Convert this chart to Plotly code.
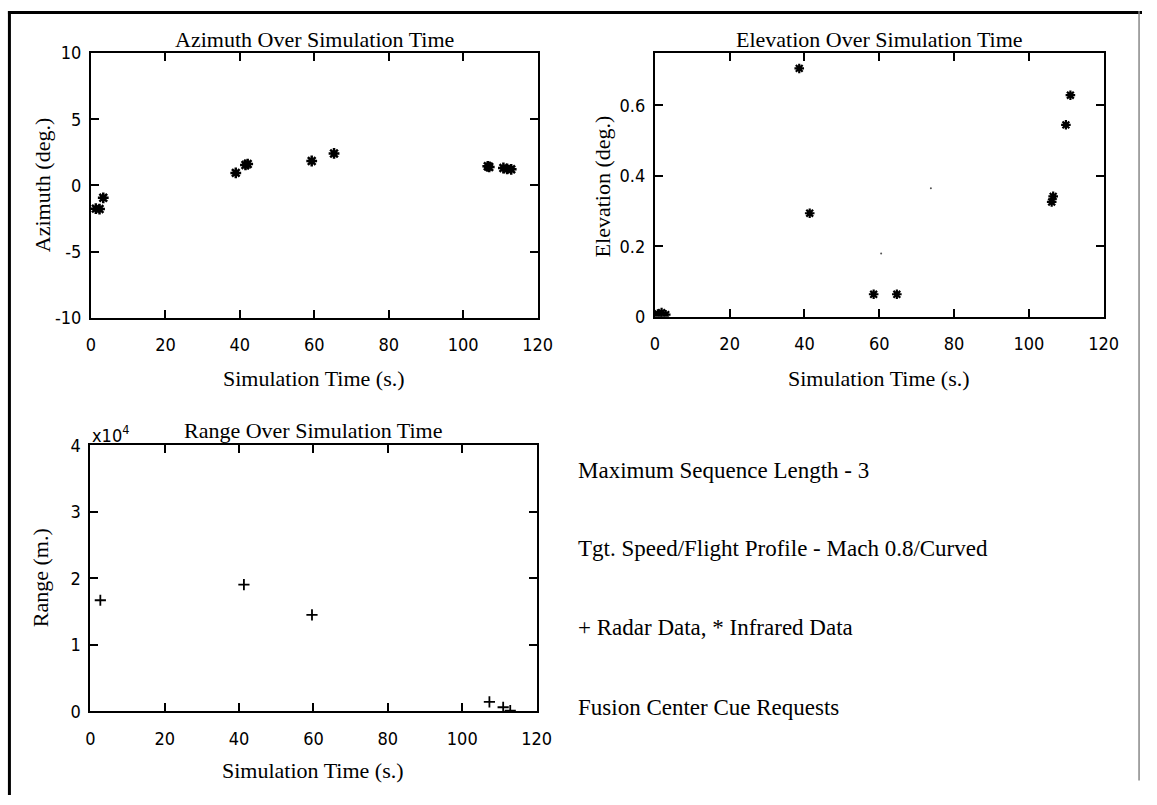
import plotly.graph_objects as go

W, H = 1157, 805

# ---------------- data ----------------
az_time = [1.3, 2.3, 3.3, 38.9, 41.5, 42.1, 59.3, 65.3, 106.6, 107.0, 110.8, 111.8, 112.9]
az_deg = [-1.75, -1.78, -0.93, 0.95, 1.55, 1.62, 1.85, 2.42, 1.45, 1.40, 1.32, 1.25, 1.22]

el_time = [0.8, 1.8, 2.9, 38.6, 41.4, 58.5, 64.7, 106.1, 106.5, 109.9, 111.1]
el_deg = [0.008, 0.012, 0.006, 0.705, 0.294, 0.064, 0.064, 0.326, 0.342, 0.545, 0.629]

el_dot_time = [60.5, 73.8]
el_dot_deg = [0.18, 0.365]

rg_time = [2.7, 41.3, 59.6, 107.3, 111.0, 112.9]
rg_m = [16700, 19050, 14500, 1400, 600, 100]

x_ticks = [0, 20, 40, 60, 80, 100, 120]
az_ticks = [10, 5, 0, -5, -10]
az_tick_text = ["10", "5", "0", "-5", "-10"]
el_ticks = [0, 0.2, 0.4, 0.6]
el_tick_text = ["0", "0.2", "0.4", "0.6"]
rg_ticks = [0, 10000, 20000, 30000, 40000]
rg_tick_text = ["0", "1", "2", "3", "4"]

notes = ["Maximum Sequence Length - 3",
         "Tgt. Speed/Flight Profile - Mach 0.8/Curved",
         "+ Radar Data, * Infrared Data",
         "Fusion Center Cue Requests"]

# ---------------- layout helpers ----------------
def px(x):
    return x / W

def py(y):
    return 1 - y / H

SERIF = "Liberation Serif, Times New Roman, serif"
SANS = "DejaVu Sans Condensed, DejaVu Sans, sans-serif"

# plot boxes in pixels: (left, right, top, bottom)
box1 = (87.5, 542, 43.3, 315)
box2 = (661.3, 1118, 42.7, 314)
box3 = (86.8, 541, 446, 719)

axis_common = dict(
    showline=True, linewidth=2, linecolor="black", mirror="allticks",
    ticks="inside", ticklen=8, tickwidth=1.5, tickcolor="black",
    showgrid=False, zeroline=False,
    tickfont=dict(family=SANS, size=18, color="black"),
)

fig = go.Figure()

ast = dict(symbol="asterisk-open", size=9, color="black", line=dict(color="black", width=2.5))
ast2 = dict(symbol="asterisk-open", size=8, color="black", line=dict(color="black", width=2.2))

fig.add_trace(go.Scatter(x=az_time, y=az_deg, mode="markers", marker=ast,
                         xaxis="x", yaxis="y", showlegend=False))
fig.add_trace(go.Scatter(x=el_time, y=el_deg, mode="markers", marker=ast2,
                         xaxis="x2", yaxis="y2", showlegend=False))
fig.add_trace(go.Scatter(x=el_dot_time, y=el_dot_deg, mode="markers",
                         marker=dict(symbol="circle", size=2, color="#555555"),
                         xaxis="x2", yaxis="y2", showlegend=False))
fig.add_trace(go.Scatter(x=rg_time, y=rg_m, mode="markers",
                         marker=dict(symbol="cross-thin-open", size=8, color="black",
                                     line=dict(color="black", width=1.8)),
                         xaxis="x3", yaxis="y3", showlegend=False))

def xa(box, anchor):
    return dict(axis_common, domain=[px(box[0]), px(box[1])], range=[0, 120],
                tickvals=x_ticks, anchor=anchor, ticklabelstandoff=10)

def ya(box, anchor, rng, tv, tt):
    return dict(axis_common, domain=[py(box[3]), py(box[2])], range=rng,
                tickvals=tv, ticktext=tt, anchor=anchor, ticklabelstandoff=4)

fig.update_layout(
    width=W, height=H,
    margin=dict(l=0, r=0, t=0, b=0),
    paper_bgcolor="white", plot_bgcolor="white",
    xaxis=xa(box1, "y"),
    yaxis=ya(box1, "x", [-10, 10], az_ticks, az_tick_text),
    xaxis2=xa(box2, "y2"),
    yaxis2=ya(box2, "x2", [0, 0.75], el_ticks, el_tick_text),
    xaxis3=xa(box3, "y3"),
    yaxis3=ya(box3, "x3", [0, 40000], rg_ticks, rg_tick_text),
)

ann = []

def text(x, y, s, size=22, family=SERIF, xanchor="center", angle=0):
    ann.append(dict(x=px(x), y=py(y), xref="paper", yref="paper", text=s,
                    showarrow=False, xanchor=xanchor, yanchor="middle",
                    textangle=angle, font=dict(family=family, size=size, color="black")))

# titles
text((box1[0] + box1[1]) / 2, 29, "Azimuth Over Simulation Time")
text((box2[0] + box2[1]) / 2, 29, "Elevation Over Simulation Time")
text((box3[0] + box3[1]) / 2, 431, "Range Over Simulation Time")
# x titles
text((box1[0] + box1[1]) / 2, 377, "Simulation Time (s.)")
text((box2[0] + box2[1]) / 2, 377, "Simulation Time (s.)")
text((box3[0] + box3[1]) / 2, 780, "Simulation Time (s.)")
# y titles
text(37.5, 179, "Azimuth (deg.)", angle=-90)
text(607.6, 180, "Elevation (deg.)", angle=-90)
text(36, 582, "Range (m.)", angle=-90)
# exponent
text(87, 434, "x10<sup>4</sup>", size=18, family=SANS, xanchor="left")
# notes
for s, y in zip(notes, [472, 552, 633, 715]):
    text(581, y, s, size=23, xanchor="left")

fig.update_layout(annotations=ann)

# outer frame
fig.update_layout(shapes=[
    dict(type="line", xref="paper", yref="paper", x0=px(4.5), x1=px(4.5), y0=0, y1=1,
         line=dict(color="black", width=3)),
    dict(type="line", xref="paper", yref="paper", x0=px(3), x1=1, y0=py(1.5), y1=py(1.5),
         line=dict(color="black", width=3)),
    dict(type="line", xref="paper", yref="paper", x0=px(1154), x1=px(1154), y0=py(790), y1=1,
         line=dict(color="#888888", width=1.5)),
])

fig.write_html("out.html")
